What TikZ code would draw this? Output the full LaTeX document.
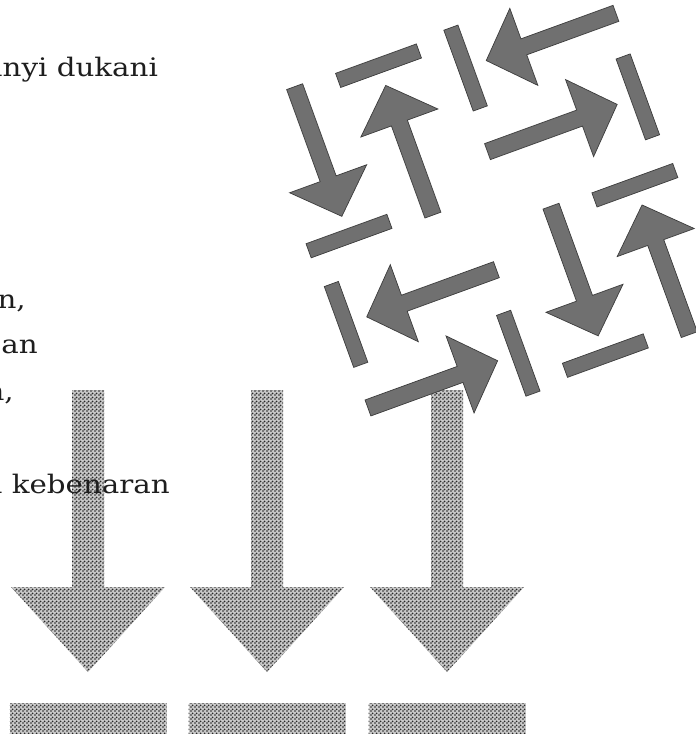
\documentclass[tikz,border=0pt]{standalone}
\usepackage{fontspec}
\newfontfamily\scanfont[FakeStretch=1.15]{DejaVu Serif}
\usetikzlibrary{patterns}
\pgfdeclarepatternformonly{halftone}{\pgfqpoint{-1.2pt}{-1.2pt}}{\pgfqpoint{2.8pt}{2.8pt}}{\pgfqpoint{4pt}{4pt}}{%
  \pgfpathcircle{\pgfqpoint{0pt}{0pt}}{1.15pt}%
  \pgfpathcircle{\pgfqpoint{2pt}{2pt}}{1.15pt}%
  \pgfusepath{fill}}
\definecolor{gfill}{RGB}{112,112,112}
\definecolor{gedge}{RGB}{60,60,60}
\definecolor{dotc}{RGB}{40,40,40}
\definecolor{dotbase}{RGB}{200,200,200}
\definecolor{inkc}{RGB}{30,30,30}
\tikzset{
  gshape/.style={fill=gfill, draw=gedge, line width=0.7pt, line join=miter},
  dotshape/.style={fill=dotbase, postaction={pattern=halftone, pattern color=dotc}},
  scantext/.style={font=\scanfont\fontsize{25.5}{30}\selectfont, text=inkc, inner sep=0pt, anchor=base west},
}
% one grey arrow: tail at (#1,#2), pointing in direction #3
\newcommand\myGreyArrow[3]{%
  \begin{scope}[shift={(#1,#2)}, rotate=#3]
    \path[gshape] (0,-8.5) -- (98,-8.5) -- (98,-41) -- (138,0) -- (98,41) -- (98,8.5) -- (0,8.5) -- cycle;
  \end{scope}}
% cell with a down and an up arrow
\newcommand\myCellVert[2]{%
  \begin{scope}[shift={(#1,#2)}]
    \myGreyArrow{-43}{-84}{-90}
    \path[gshape] (-86,67.5) rectangle (0,82.5);
    \myGreyArrow{43}{84}{90}
    \path[gshape] (0,-82.5) rectangle (86,-67.5);
  \end{scope}}
% cell with a left and a right arrow
\newcommand\myCellHoriz[2]{%
  \begin{scope}[shift={(#1,#2)}]
    \myGreyArrow{84}{-43}{180}
    \path[gshape] (-83.5,-86) rectangle (-68.5,0);
    \myGreyArrow{-84}{43}{0}
    \path[gshape] (68.5,0) rectangle (83.5,86);
  \end{scope}}
\begin{document}
\begin{tikzpicture}[x=1pt,y=-1pt]
\clip (0,0) rectangle (696,734);
\fill[white] (0,0) rectangle (696,734);
% dotted down arrows and blocks
\foreach \cx in {88,267,447} {
  \path[dotshape] (\cx-16,390) -- (\cx+16,390) -- (\cx+16,587) -- (\cx+77,587) -- (\cx,672) -- (\cx-77,587) -- (\cx-16,587) -- cycle;
  \path[dotshape] (\cx-78.5,703) rectangle (\cx+78.5,740);
}
% rotated group of arrows and bars
\begin{scope}[shift={(300,40)}, rotate=20]
  \myCellVert{22}{126}
  \myCellHoriz{222}{126}
  \myCellHoriz{22}{326}
  \myCellVert{222}{326}
\end{scope}
% text fragments
\node[scantext] (t1) at (-15,76) {anyi dukani};
\node[scantext, anchor=base east] (t2) at (26,308) {n,};
\node[scantext, anchor=base east] (t3) at (38,353) {an};
\node[scantext, anchor=base east] (t4) at (14,400) {n,};
\node[scantext, anchor=base east] (t5) at (170,493) {n kebenaran};
\end{tikzpicture}
\end{document}
